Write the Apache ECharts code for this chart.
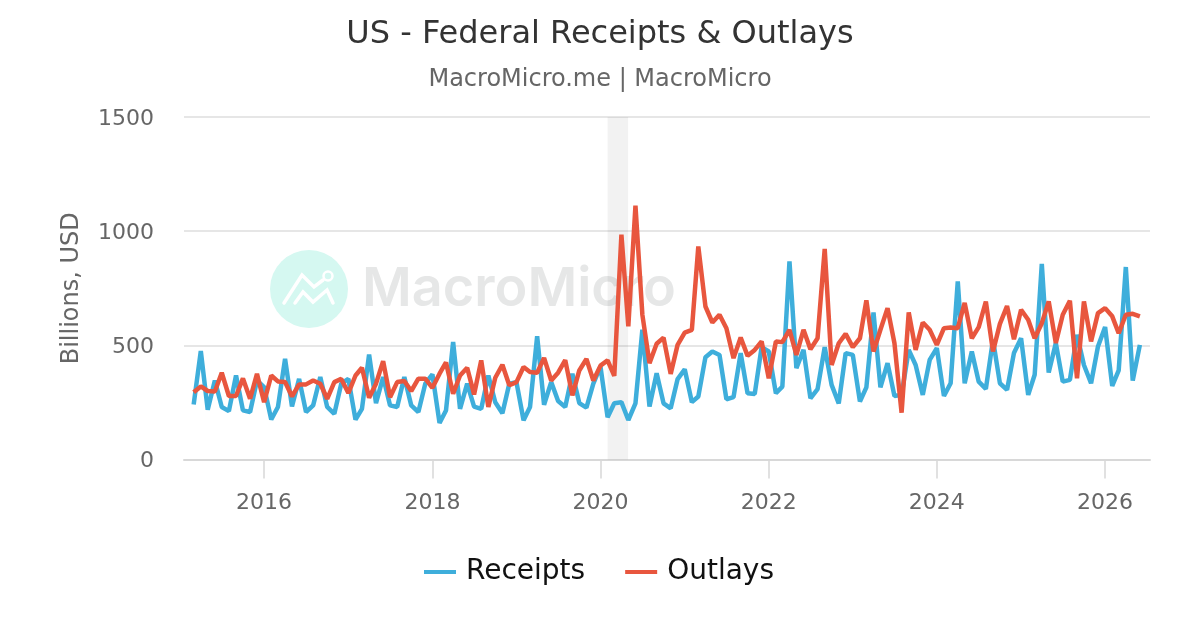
<!DOCTYPE html>
<html><head><meta charset="utf-8">
<style>html,body{margin:0;padding:0;background:#fff}#c{width:1200px;height:630px}</style>
<script src="https://cdn.jsdelivr.net/npm/echarts@6/dist/echarts.min.js"></script>
</head><body><div id="c"></div>
<script>
const startYear = 2015, startMonth = 2; // first point: March 2015
const receipts = [241,475,218,346,230,212,368,215,208,346,317,175,230,441,232,353,208,237,361,230,200,332,353,175,222,460,247,361,237,230,361,237,208,332,373,160,215,515,222,332,232,222,368,251,203,332,339,172,230,540,240,339,256,230,376,247,227,332,407,185,246,251,173,246,568,232,378,246,224,352,395,251,276,448,473,458,264,273,466,290,287,492,473,290,319,868,400,480,268,308,492,327,246,466,458,254,316,644,316,422,278,283,480,414,283,436,488,278,334,780,334,473,341,309,524,334,305,466,531,283,371,857,381,510,341,349,546,414,334,495,580,322,390,843,346,502];
const outlays = [295,320,300,298,380,278,278,355,266,375,251,368,342,339,276,329,329,346,332,266,339,353,291,368,402,270,332,431,273,339,344,300,354,354,314,376,425,288,368,402,285,434,230,358,415,325,339,405,383,380,445,346,380,435,281,390,440,346,411,434,366,985,583,1112,634,422,507,534,375,502,556,568,933,670,600,634,575,444,534,454,480,517,356,517,514,568,458,568,483,531,922,414,509,550,492,531,697,473,568,663,509,205,644,480,600,568,502,575,578,575,686,531,580,692,473,594,672,527,656,612,531,597,692,510,634,695,356,692,517,641,663,627,553,634,638,627];
const recession = ['2020-02-01','2020-04-30'];
const seriesNames = ['Receipts','Outlays'];
const titleText = 'US - Federal Receipts & Outlays';
const subtitleText = 'MacroMicro.me | MacroMicro';
const xTicks = ['2016','2018','2020','2022','2024','2026'];

function dateOf(i){ return Date.UTC(startYear, startMonth + i, 1); }
const pairs = a => a.map((v,i)=>[dateOf(i),v]);
const tickTimes = xTicks.map(y=>Date.UTC(+y,0,1));
const font = 'DejaVu Sans';
const chart = echarts.init(document.getElementById('c'), null, {renderer:'canvas'});
chart.setOption({
  animation:false,
  backgroundColor:'#fff',
  title:{text:titleText,subtext:subtitleText,left:'center',top:14,itemGap:16.5,
    textStyle:{fontFamily:font,fontSize:32,fontWeight:'normal',color:'#333'},
    subtextStyle:{fontFamily:font,fontSize:24,color:'#666'}},
  legend:{bottom:44,left:424,padding:0,icon:'rect',itemWidth:32,itemHeight:4,itemGap:40,
    textStyle:{fontFamily:font,fontSize:28,color:'#111',padding:[0,0,0,5]},data:seriesNames},
  grid:{left:184,right:50,top:117,bottom:170.5},
  graphic:[
    {type:'circle',z:0,silent:true,shape:{cx:309,cy:289,r:39},style:{fill:'#d5f8f1'}},
    {type:'polyline',z:0,silent:true,shape:{points:[[284,303],[302,275],[314,287],[323,280]]},style:{stroke:'#fff',lineWidth:3.5,fill:null,lineCap:'round'}},
    {type:'polyline',z:0,silent:true,shape:{points:[[295,303],[303,292],[313,302],[327,290],[333,303]]},style:{stroke:'#fff',lineWidth:3.5,fill:null,lineCap:'round'}},
    {type:'circle',z:0,silent:true,shape:{cx:328,cy:276,r:4.5},style:{fill:'#d5f8f1',stroke:'#fff',lineWidth:2.5}},
    {type:'text',z:0,silent:true,left:362,top:263,style:{text:'MacroMicro',font:'600 54px Inter',fill:'#e6e7e7'}}
  ],
  xAxis:{type:'value',min:Date.UTC(2015,0,18),max:Date.UTC(2026,6,15),
    axisLine:{lineStyle:{color:'#d8d8d8',width:2}},
    axisTick:{show:true,length:19,customValues:tickTimes,lineStyle:{color:'#d8d8d8',width:1.5}},
    splitLine:{show:false},minorTick:{show:false},
    axisLabel:{customValues:tickTimes,formatter:v=>String(new Date(v).getUTCFullYear()),fontFamily:font,fontSize:22,color:'#666',margin:33}},
  yAxis:{type:'value',min:0,max:1500,interval:500,name:'Billions, USD',nameLocation:'middle',nameGap:100,
    nameTextStyle:{fontFamily:font,fontSize:24,color:'#666'},
    axisLine:{show:false},axisTick:{show:false},
    splitLine:{lineStyle:{color:'#e6e6e6',width:2}},
    axisLabel:{formatter:v=>String(v),fontFamily:font,fontSize:22,color:'#666',margin:30,verticalAlign:'top',lineHeight:4}},
  series:[
    {name:seriesNames[0],type:'line',data:pairs(receipts),showSymbol:false,symbol:'none',
     lineStyle:{color:'#3eaedb',width:4.5,join:'bevel'},itemStyle:{color:'#3eaedb'},z:3,
     markArea:{silent:true,itemStyle:{color:'rgba(0,0,0,0.05)'},data:[[{xAxis:Date.parse(recession[0])},{xAxis:Date.parse(recession[1])}]],z:1}},
    {name:seriesNames[1],type:'line',data:pairs(outlays),showSymbol:false,symbol:'none',
     lineStyle:{color:'#e8563e',width:4.5,join:'bevel'},itemStyle:{color:'#e8563e'},z:4}
  ]
});
</script></body></html>
